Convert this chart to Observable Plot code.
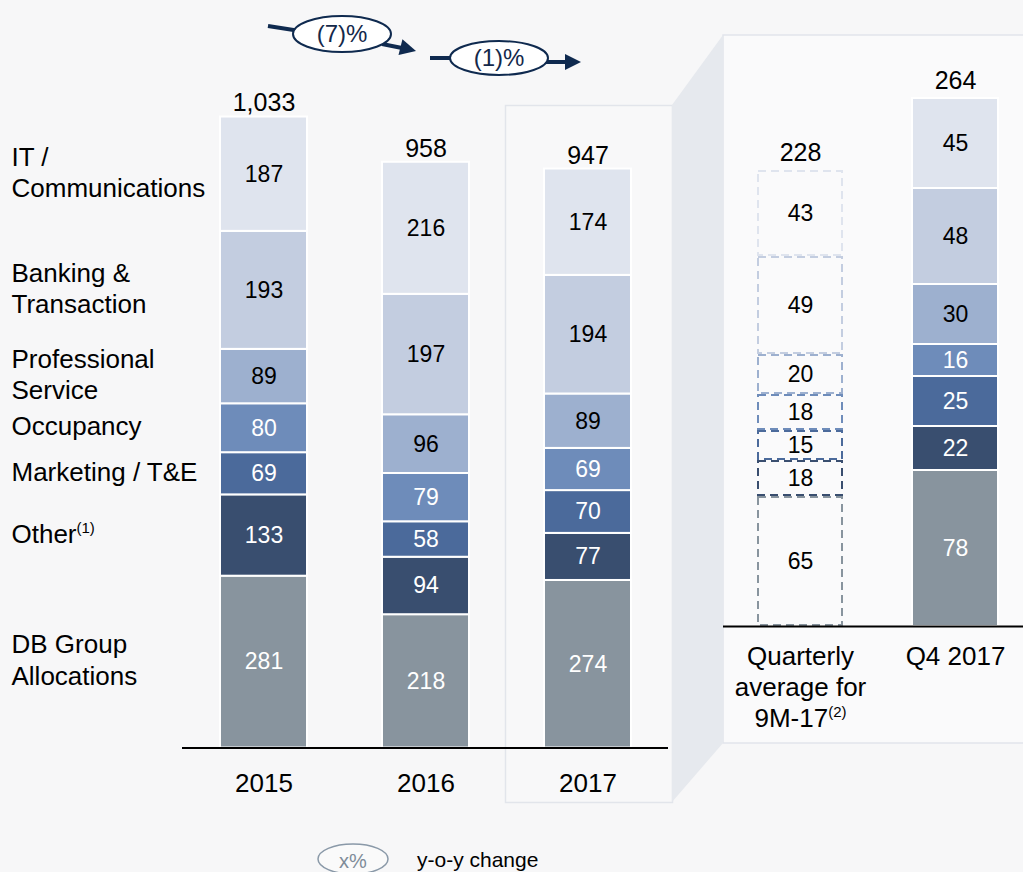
<!DOCTYPE html>
<html>
<head>
<meta charset="utf-8">
<script src="https://cdn.jsdelivr.net/npm/d3@7"></script>
<script src="https://cdn.jsdelivr.net/npm/@observablehq/plot@0.6"></script>
<style>
  html, body { margin: 0; padding: 0; background: #f7f7f8; }
  #wrap { position: relative; width: 1023px; height: 872px; overflow: hidden; background: #f7f7f8; }
  #wrap > * { position: absolute; left: 0; top: 0; }
</style>
</head>
<body>
<div id="wrap">
  <svg id="deco" width="1023" height="872"></svg>
  <div id="left"></div>
  <div id="right"></div>
</div>
<script>
// ---------- data ----------
const categories = ["DB Group Allocations", "Other", "Marketing / T&E", "Occupancy", "Professional Service", "Banking & Transaction", "IT / Communications"];
const categoryLabels = ["DB Group\nAllocations", "Other(1)", "Marketing / T&E", "Occupancy", "Professional\nService", "Banking &\nTransaction", "IT /\nCommunications"];
const categoryColors = ["#88949e", "#394e6f", "#4b6a9b", "#6e8cba", "#9db0cf", "#c3cde0", "#dfe4ee"];
const whiteTextCategories = ["DB Group Allocations", "Other", "Marketing / T&E", "Occupancy"];

const years = ["2015", "2016", "2017"];
const values2015 = [281, 133, 69, 80, 89, 193, 187];
const values2016 = [218, 94, 58, 79, 96, 197, 216];
const values2017 = [274, 77, 70, 69, 89, 194, 174];
const yearTotals = [1033, 958, 947];

const periods = ["Quarterly\naverage for\n9M-17(2)", "Q4 2017"];
const valuesQAvg = [65, 18, 15, 18, 20, 49, 43];
const valuesQ4 = [78, 22, 25, 16, 30, 48, 45];
const periodTotals = [228, 264];

const yoyChanges = ["(7)%", "(1)%"];
const legendSymbol = "x%";
const legendText = "y-o-y change";

// ---------- tables ----------
const yearValues = [values2015, values2016, values2017];
const leftData = years.flatMap((yr, i) => categories.map((c, j) => ({period: yr, category: c, value: yearValues[i][j]})));
const qAvgData = categories.map((c, j) => ({period: periods[0], category: c, value: valuesQAvg[j]}));
const q4Data = categories.map((c, j) => ({period: periods[1], category: c, value: valuesQ4[j]}));
const labelData = categories.map((c, j) => ({category: c, value: values2015[j], label: categoryLabels[j]}));

const FONT = "'Liberation Sans', Arial, Helvetica, sans-serif";
const isWhite = d => whiteTextCategories.includes(d.category);

// ---------- left panel ----------
const left = Plot.plot({
  width: 1023, height: 872,
  marginLeft: 182, marginRight: 355, marginTop: 0, marginBottom: 125,
  style: {background: "transparent", fontFamily: FONT, overflow: "visible"},
  x: {domain: years, paddingInner: 0.465, paddingOuter: 0.2275, align: 0.5, axis: null},
  y: {domain: [0, 1000], range: [747.5, 136.1], axis: null},
  color: {domain: categories, range: categoryColors},
  marks: [
    Plot.barY(leftData, Plot.stackY({x: "period", y: "value", fill: "category", order: categories, stroke: "white", strokeWidth: 2})),
    Plot.text(leftData, Plot.filter(isWhite, Plot.stackY({x: "period", y: "value", z: "category", order: categories, text: "value", fill: "white", fontSize: 23}))),
    Plot.text(leftData, Plot.filter(d => !isWhite(d), Plot.stackY({x: "period", y: "value", z: "category", order: categories, text: "value", fill: "black", fontSize: 23}))),
    Plot.text(years, {x: d => d, y: (d, i) => yearTotals[i], text: (d, i) => d3.format(",")(yearTotals[i]), lineAnchor: "bottom", dy: -5, fontSize: 25, fill: "black"}),
    Plot.text(labelData, Plot.stackY({y: "value", z: "category", order: categories, text: "label", frameAnchor: "left", dx: -171, dy: -3, textAnchor: "start", fontSize: 26, lineHeight: 1.2, fill: "black"})),
    Plot.ruleY([0], {stroke: "black", strokeWidth: 2}),
    Plot.axisX({tickSize: 0, tickPadding: 26, fontSize: 26, fill: "black", label: null})
  ]
});

// ---------- right panel ----------
const right = Plot.plot({
  width: 1023, height: 872,
  marginLeft: 723, marginRight: 0, marginTop: 0, marginBottom: 246,
  style: {background: "transparent", fontFamily: FONT, overflow: "visible"},
  x: {domain: periods, paddingInner: 0.445, paddingOuter: 0.19, align: 0.576, axis: null},
  y: {domain: [0, 300], range: [626, 26], axis: null},
  color: {domain: categories, range: categoryColors},
  marks: [
    Plot.barY(qAvgData, Plot.stackY({x: "period", y: "value", stroke: "category", order: categories, fill: "none", strokeWidth: 2, strokeDasharray: "8,5", inset: 1})),
    Plot.barY(q4Data, Plot.stackY({x: "period", y: "value", fill: "category", order: categories, stroke: "white", strokeWidth: 2})),
    Plot.text(qAvgData, Plot.stackY({x: "period", y: "value", z: "category", order: categories, text: "value", fill: "black", fontSize: 23})),
    Plot.text(q4Data, Plot.filter(isWhite, Plot.stackY({x: "period", y: "value", z: "category", order: categories, text: "value", fill: "white", fontSize: 23}))),
    Plot.text(q4Data, Plot.filter(d => !isWhite(d), Plot.stackY({x: "period", y: "value", z: "category", order: categories, text: "value", fill: "black", fontSize: 23}))),
    Plot.text(periods, {x: d => d, y: (d, i) => periodTotals[i], text: (d, i) => String(periodTotals[i]), lineAnchor: "bottom", dy: -10, fontSize: 25, fill: "black"}),
    Plot.ruleY([0], {stroke: "black", strokeWidth: 2}),
    Plot.axisX({tickSize: 0, tickPadding: 16, fontSize: 26, lineHeight: 1.2, fill: "black", label: null})
  ]
});

// superscript footnote markers like "(1)"
function superscripts(root) {
  root.querySelectorAll("text, tspan").forEach(el => {
    if (el.children.length) return;
    const m = el.textContent.match(/^(.+)\((\d)\)$/);
    if (!m) return;
    el.textContent = m[1];
    const t = document.createElementNS("http://www.w3.org/2000/svg", "tspan");
    t.setAttribute("font-size", "15");
    t.setAttribute("dy", "-10");
    t.textContent = "(" + m[2] + ")";
    el.appendChild(t);
  });
}
superscripts(left); superscripts(right);
document.getElementById("left").appendChild(left);
document.getElementById("right").appendChild(right);

// ---------- decoration ----------
const deco = d3.select("#deco");
deco.append("rect").attr("width", 1023).attr("height", 872).attr("fill", "#f7f7f8");
// back panel of the 3D box
deco.append("rect").attr("x", 723).attr("y", 35).attr("width", 320).attr("height", 708)
  .attr("fill", "#fafafb").attr("stroke", "#e2e5eb").attr("stroke-width", 1.5);
// 2017 highlight box
deco.append("rect").attr("x", 505.5).attr("y", 105.5).attr("width", 167).attr("height", 697)
  .attr("fill", "#f8f8f9").attr("stroke", "#e2e5eb").attr("stroke-width", 1.5);
// side face
deco.append("polygon").attr("points", "672,105 723,35 723,743 672,802").attr("fill", "#e6e9ee");

// y-o-y arrows
const navy = "#0f2a4f";
function arrow(pts) {
  deco.append("path").attr("d", d3.line()(pts)).attr("stroke", navy).attr("stroke-width", 4).attr("fill", "none");
}
function head(tip, dir) {
  const [tx, ty] = tip, [dx, dy] = dir;
  const len = Math.hypot(dx, dy), ux = dx / len, uy = dy / len;
  const bx = tx - ux * 16, by = ty - uy * 16;
  deco.append("polygon").attr("points", `${tx},${ty} ${bx - uy * 8},${by + ux * 8} ${bx + uy * 8},${by - ux * 8}`).attr("fill", navy);
}
const yoyPos = [[342, 34, 49, 18], [499, 58, 49, 17]];
arrow([[268, 26], [300, 31]]);
arrow([[382, 44], [402, 48]]);
head([416, 51], [14, 3.5]);
arrow([[430, 58], [455, 58]]);
arrow([[544, 62], [566, 62]]);
head([581, 62], [1, 0]);
yoyChanges.forEach((t, i) => {
  const [cx, cy, rx, ry] = yoyPos[i];
  deco.append("ellipse").attr("cx", cx).attr("cy", cy).attr("rx", rx).attr("ry", ry)
    .attr("fill", "white").attr("stroke", navy).attr("stroke-width", 2);
  deco.append("text").attr("x", cx).attr("y", cy).attr("dy", "0.35em").attr("text-anchor", "middle")
    .attr("font-family", FONT).attr("font-size", 24).attr("fill", "#13284a").text(t);
});

// legend
deco.append("ellipse").attr("cx", 353).attr("cy", 859).attr("rx", 35).attr("ry", 15)
  .attr("fill", "#fafafa").attr("stroke", "#8a99a8").attr("stroke-width", 1.5);
deco.append("text").attr("x", 353).attr("y", 861).attr("dy", "0.35em").attr("text-anchor", "middle")
  .attr("font-family", FONT).attr("font-size", 20).attr("fill", "#7f8c99").text(legendSymbol);
deco.append("text").attr("x", 417).attr("y", 860).attr("dy", "0.35em")
  .attr("font-family", FONT).attr("font-size", 21).attr("fill", "black").text(legendText);
</script>
</body>
</html>
